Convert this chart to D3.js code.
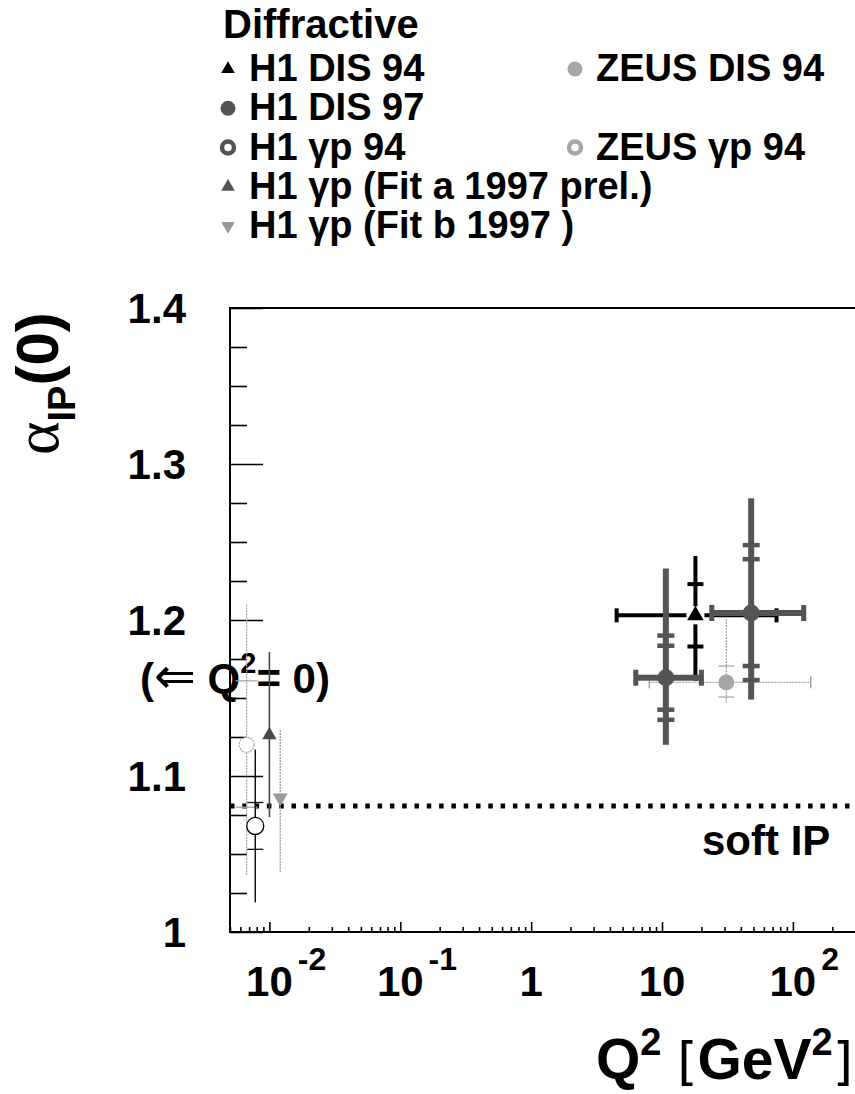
<!DOCTYPE html>
<html>
<head>
<meta charset="utf-8">
<script src="https://cdn.jsdelivr.net/npm/d3@7"></script>
<style>
  html, body { margin: 0; padding: 0; background: #fff; }
  svg { display: block; }
  text { font-family: "Liberation Sans", Arial, Helvetica, sans-serif; font-weight: bold; fill: #000; }
</style>
</head>
<body>
<svg id="chart" width="855" height="1094"></svg>
<script>
// ---- axis ranges and ticks ----
const q2Domain = [0.005, 320];
const alphaDomain = [1.0, 1.4];
const xMajorTicks = [0.01, 0.1, 1, 10, 100];
const xTickBase = ["10", "10", "1", "10", "10"];
const xTickExp = ["-2", "-1", "", "", "2"];
const yMajorTicks = [1.0, 1.1, 1.2, 1.3, 1.4];
const yTickLabels = ["1", "1.1", "1.2", "1.3", "1.4"];
const yMinorTicks = [1.025, 1.05, 1.075, 1.125, 1.15, 1.175, 1.225, 1.25, 1.275, 1.325, 1.35, 1.375];

// ---- measurements: Q2 [GeV^2], alpha_IP(0) with total error range and inner error ticks ----
const h1Dis94 = [
  { q2: 18, q2Lo: 4.5, q2Hi: 75, a: 1.203, aLo: 1.161, aHi: 1.241, ticks: [1.223, 1.183] }
];
const h1Dis97 = [
  { q2: 10.7, q2Lo: 6.3, q2Hi: 20, a: 1.163, aLo: 1.120, aHi: 1.233, ticks: [1.190, 1.1835, 1.1425, 1.136] },
  { q2: 48, q2Lo: 24, q2Hi: 121, a: 1.2045, aLo: 1.149, aHi: 1.278, ticks: [1.248, 1.239, 1.1705, 1.1615] }
];
const zeusDis94 = [
  { q2: 31, q2Lo: 8, q2Hi: 137, a: 1.160, aLo: 1.147, aHi: 1.2006, ticks: [1.1705, 1.1506] }
];
// photoproduction points (Q2 = 0) are drawn at the left edge of the axis
const zeusGp94 = [
  { q2: 0.0067, a: 1.120, aLo: 1.036, aHi: 1.210, ticks: [1.161, 1.080] }
];
const h1Gp94 = [
  { q2: 0.0078, a: 1.068, aLo: 1.019, aHi: 1.117, ticks: [1.083, 1.053] }
];
const h1GpFitA = [
  { q2: 0.0100, a: 1.1263, aLo: 1.0737, aHi: 1.1795, ticks: [] }
];
const h1GpFitB = [
  { q2: 0.0121, a: 1.086, aLo: 1.0385, aHi: 1.1295, ticks: [] }
];
const softPomeron = 1.0808;

// ---- legend entries ----
const legendLabels = ["H1 DIS 94", "ZEUS DIS 94", "H1 DIS 97", "H1 γp 94", "ZEUS γp 94",
                      "H1 γp (Fit a 1997 prel.)", "H1 γp (Fit b 1997 )"];
const legendCols = [0, 1, 0, 0, 1, 0, 0];
const legendRows = [0, 0, 1, 2, 2, 3, 4];
const legendSymbols = ["triUp", "circle", "circle", "ring", "ring", "triUp", "triDown"];
const legendColors = ["#000", "#a6a6a6", "#545454", "#545454", "#a6a6a6", "#545454", "#9a9a9a"];

// ---- layout ----
const frame = { left: 230, right: 859, top: 308, bottom: 932 };
const svg = d3.select("#chart");
const x = d3.scaleLog().domain(q2Domain).range([frame.left, frame.right]);
const y = d3.scaleLinear().domain(alphaDomain).range([frame.bottom, frame.top]);

// ---- axes (ticks point into the frame) ----
const axX = svg.append("g").attr("transform", `translate(0,${frame.bottom})`);
axX.call(d3.axisBottom(x).tickValues(xMajorTicks).tickSize(-10).tickSizeOuter(0).tickFormat(""));
const xMinor = x.ticks().filter(t => !xMajorTicks.some(m => Math.abs(m - t) / m < 1e-6));
const axXm = svg.append("g").attr("transform", `translate(0,${frame.bottom})`);
axXm.call(d3.axisBottom(x).tickValues(xMinor).tickSize(-5).tickSizeOuter(0).tickFormat(""));

const axY = svg.append("g").attr("transform", `translate(${frame.left},0)`);
axY.call(d3.axisLeft(y).tickValues(yMajorTicks).tickSize(-33).tickSizeOuter(0).tickFormat(""));
const axYm = svg.append("g").attr("transform", `translate(${frame.left},0)`);
axYm.call(d3.axisLeft(y).tickValues(yMinorTicks).tickSize(-17).tickSizeOuter(0).tickFormat(""));

svg.selectAll(".domain").remove();
svg.selectAll(".tick line").attr("stroke", "#000").attr("stroke-width", 1.6);

// frame
svg.append("rect")
  .attr("x", frame.left).attr("y", frame.top)
  .attr("width", frame.right - frame.left).attr("height", frame.bottom - frame.top)
  .attr("fill", "none").attr("stroke", "#000").attr("stroke-width", 2);

// x tick labels: mantissa centred on the tick, exponent raised to its right
const xLab = svg.append("g");
xMajorTicks.forEach((t, i) => {
  xLab.append("text").attr("x", x(t)).attr("y", 996)
    .attr("text-anchor", "middle").attr("font-size", 42).text(xTickBase[i]);
  if (xTickExp[i]) {
    const half = xTickBase[i].length * 0.556 * 42 / 2;
    xLab.append("text").attr("x", x(t) + half + 5).attr("y", 970)
      .attr("font-size", 32).text(xTickExp[i]);
  }
});

// y tick labels
svg.append("g").selectAll("text").data(yMajorTicks).join("text")
  .attr("x", 186).attr("y", d => y(d) + 15)
  .attr("text-anchor", "end").attr("font-size", 42)
  .text((d, i) => yTickLabels[i]);

// axis titles
const xt = svg.append("text").attr("x", 853).attr("y", 1079).attr("text-anchor", "end").attr("font-size", 57);
xt.append("tspan").text("Q");
xt.append("tspan").attr("font-size", 38).attr("dy", -24).text("2");
xt.append("tspan").attr("dy", 24).text(" ");
xt.append("tspan").attr("font-weight", "normal").attr("font-family", "DejaVu Sans").attr("font-size", 52).text("[");
xt.append("tspan").text("GeV");
xt.append("tspan").attr("font-size", 38).attr("dy", -24).text("2");
xt.append("tspan").attr("dy", 24).attr("font-weight", "normal").attr("font-family", "DejaVu Sans").attr("font-size", 52).text("]");

const yt = svg.append("text").attr("transform", "translate(58,455) rotate(-90)").attr("font-size", 60);
yt.append("tspan").attr("font-family", "Liberation Serif").attr("font-weight", "normal").attr("font-size", 64).text("α");
yt.append("tspan").attr("font-size", 38).attr("dy", 17).text("IP");
yt.append("tspan").attr("dy", -17).text("(0)");

// Q2 = 0 marker for photoproduction points
const q0 = svg.append("text").attr("x", 140).attr("y", 693).attr("font-size", 42);
q0.append("tspan").text("(");
q0.append("tspan").attr("font-family", "DejaVu Sans").attr("font-weight", "normal").attr("font-size", 50).text("⇐");
q0.append("tspan").text(" Q");
q0.append("tspan").attr("font-size", 29).attr("dy", -20).text("2");
q0.append("tspan").attr("dy", 20).text("= 0)");

// ---- plot content ----
const plot = svg.append("g");

// soft pomeron intercept
plot.append("line")
  .attr("x1", frame.left).attr("x2", frame.right)
  .attr("y1", y(softPomeron)).attr("y2", y(softPomeron))
  .attr("stroke", "#000").attr("stroke-width", 5).attr("stroke-dasharray", "4.5 7.8");
plot.append("text").attr("x", 702).attr("y", 855).attr("font-size", 42).text("soft IP");

function errorBars(data, st) {
  const g = plot.append("g");
  const gap = st.gap || 0;
  // vertical (alpha) error, split around the marker
  g.selectAll("line.up").data(data).join("line")
    .attr("x1", d => x(d.q2)).attr("x2", d => x(d.q2))
    .attr("y1", d => y(d.aHi)).attr("y2", d => y(d.a) - gap);
  g.selectAll("line.dn").data(data).join("line")
    .attr("x1", d => x(d.q2)).attr("x2", d => x(d.q2))
    .attr("y1", d => y(d.a) + gap).attr("y2", d => y(d.aLo));
  // horizontal (Q2 bin) range
  const hd = data.filter(d => d.q2Lo != null);
  g.selectAll("line.lf").data(hd).join("line")
    .attr("x1", d => x(d.q2Lo)).attr("x2", d => x(d.q2) - gap)
    .attr("y1", d => y(d.a)).attr("y2", d => y(d.a));
  g.selectAll("line.rt").data(hd).join("line")
    .attr("x1", d => x(d.q2) + gap).attr("x2", d => x(d.q2Hi))
    .attr("y1", d => y(d.a)).attr("y2", d => y(d.a));
  g.selectAll("line").attr("stroke", st.color).attr("stroke-width", st.width)
    .attr("stroke-dasharray", st.dash || null);
  // end caps of the Q2 range
  if (st.cap) {
    const caps = hd.flatMap(d => [{ q: d.q2Lo, a: d.a }, { q: d.q2Hi, a: d.a }]);
    g.selectAll("rect.cap").data(caps).join("rect")
      .attr("x", d => x(d.q) - st.capW / 2).attr("y", d => y(d.a) - st.capH / 2)
      .attr("width", st.capW).attr("height", st.capH).attr("fill", st.color);
  }
  // inner error ticks
  const td = data.flatMap(d => d.ticks.map(t => ({ q: d.q2, a: t })));
  g.selectAll("line.tk").data(td).join("line")
    .attr("x1", d => x(d.q) - st.tickW / 2).attr("x2", d => x(d.q) + st.tickW / 2)
    .attr("y1", d => y(d.a)).attr("y2", d => y(d.a))
    .attr("stroke", st.color).attr("stroke-width", st.tickT);
}

function markers(data, type, st) {
  const g = plot.append("g");
  if (type === "circle" || type === "ring") {
    g.selectAll("circle").data(data).join("circle")
      .attr("cx", d => x(d.q2)).attr("cy", d => y(d.a)).attr("r", st.r)
      .attr("fill", type === "ring" ? "#fff" : st.color)
      .attr("stroke", st.stroke || st.color).attr("stroke-width", st.sw || 0)
      .attr("stroke-dasharray", st.dash || null);
  } else {
    const sym = d3.symbol().type(d3.symbolTriangle).size(st.size);
    g.selectAll("path").data(data).join("path")
      .attr("d", sym)
      .attr("transform", d => `translate(${x(d.q2)},${y(d.a)})${type === "triDown" ? " rotate(180)" : ""}`)
      .attr("fill", st.color);
  }
}

// DIS measurements
errorBars(zeusDis94, { color: "#a6a6a6", width: 1.3, cap: true, capW: 1.5, capH: 12, tickW: 16, tickT: 1.3, dash: "2 1" });
errorBars(h1Dis94, { color: "#000", width: 4, cap: true, capW: 4, capH: 14, tickW: 16, tickT: 4, gap: 9 });
errorBars(h1Dis97, { color: "#545454", width: 6, cap: true, capW: 5, capH: 16, tickW: 17, tickT: 4.5 });
markers(zeusDis94, "circle", { r: 8, color: "#a6a6a6" });
markers(h1Dis97, "circle", { r: 8.5, color: "#545454" });
markers(h1Dis94, "triUp", { size: 120, color: "#000" });

// photoproduction measurements
errorBars(zeusGp94, { color: "#a6a6a6", width: 1.3, tickW: 22, tickT: 1.3, gap: 8, dash: "2 1" });
errorBars(h1Gp94, { color: "#111", width: 1.5, tickW: 16, tickT: 1.3, gap: 8 });
errorBars(h1GpFitA, { color: "#4a4a4a", width: 1.6, tickW: 0, tickT: 0 });
errorBars(h1GpFitB, { color: "#9a9a9a", width: 1.3, tickW: 0, tickT: 0, dash: "2 1" });
markers(zeusGp94, "ring", { r: 7.5, color: "#a6a6a6", stroke: "#a6a6a6", sw: 1.2, dash: "2 1" });
markers(h1Gp94, "ring", { r: 8.5, color: "#000", stroke: "#000", sw: 1.3 });
markers(h1GpFitA, "triUp", { size: 90, color: "#4a4a4a" });
markers(h1GpFitB, "triDown", { size: 95, color: "#9a9a9a" });

// ---- legend ----
const leg = svg.append("g");
leg.append("text").attr("x", 223).attr("y", 38).attr("font-size", 40).text("Diffractive");
const colX = [228, 575];
const rowBase = d => 81 + d * 39.25;
legendLabels.forEach((lab, i) => {
  const cx = colX[legendCols[i]], by = rowBase(legendRows[i]), cy = by - 12;
  const col = legendColors[i], s = legendSymbols[i];
  if (s === "circle") {
    leg.append("circle").attr("cx", cx).attr("cy", cy).attr("r", 7.5).attr("fill", col);
  } else if (s === "ring") {
    leg.append("circle").attr("cx", cx).attr("cy", cy).attr("r", 6).attr("fill", "none")
      .attr("stroke", col).attr("stroke-width", 4.5);
  } else {
    leg.append("path").attr("d", d3.symbol().type(d3.symbolTriangle).size(80)())
      .attr("transform", `translate(${cx},${cy})${s === "triDown" ? " rotate(180)" : ""}`)
      .attr("fill", col);
  }
  leg.append("text").attr("x", cx + 21).attr("y", by).attr("font-size", 38).text(lab);
});
</script>
</body>
</html>
